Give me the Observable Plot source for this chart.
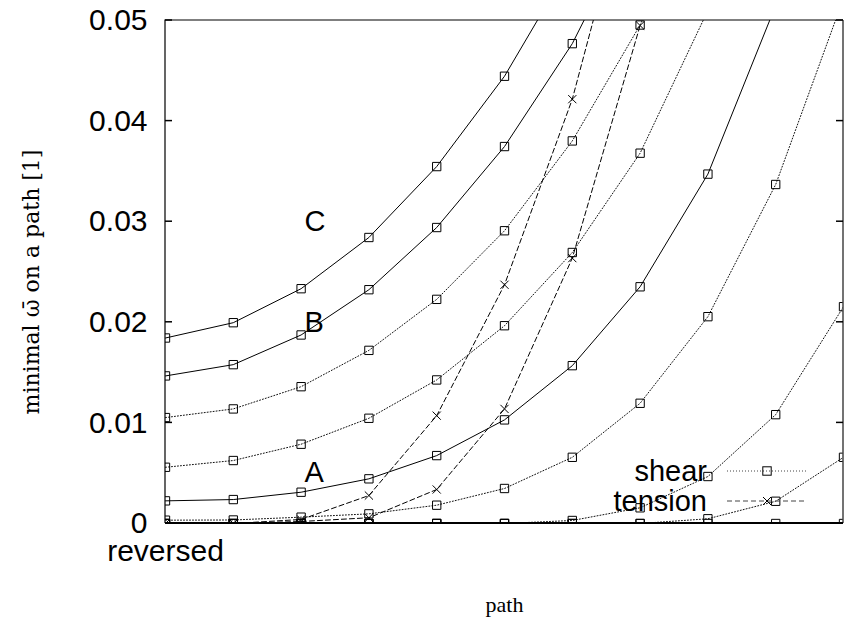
<!DOCTYPE html>
<html>
<head>
<meta charset="utf-8">
<script src="https://cdn.jsdelivr.net/npm/d3@7"></script>
<script src="https://cdn.jsdelivr.net/npm/@observablehq/plot@0.6"></script>
<style>
  html, body { margin: 0; padding: 0; background: #fff; }
  #chart { width: 844px; height: 621px; }
</style>
</head>
<body>
<div id="chart"></div>
<script>
// Path steps along the x axis (step 0 is the reversed path)
const steps = [0, 1, 2, 3, 4, 5, 6, 7, 8, 9, 10];

// Reference curves (solid), labelled A, B, C
const curveA = [0.00225, 0.00238, 0.00311, 0.00444, 0.00675, 0.0103, 0.01569, 0.02353, 0.03473, 0.0515];
const curveB = [0.01467, 0.01579, 0.01874, 0.02324, 0.02942, 0.03747, 0.0477, 0.0611];
const curveC = [0.01844, 0.01996, 0.02334, 0.02843, 0.03548, 0.04446, 0.0559];

// Shear cases (dotted)
const shear1 = [0.01053, 0.01139, 0.0136, 0.01721, 0.02228, 0.0291, 0.03803, 0.04955, 0.064];
const shear2 = [0.00559, 0.00626, 0.00788, 0.01046, 0.01427, 0.01966, 0.02694, 0.03681, 0.051];
const shear3 = [0.00033, 0.00035, 0.00063, 0.00096, 0.00182, 0.00348, 0.00658, 0.01195, 0.02056, 0.0337, 0.0522];
const shear4 = [0, 0, 0, 0, 0, 0, 0.0003, 0.00156, 0.00467, 0.01082, 0.02155];
const shear5 = [0, 0, 0, 0, 0, 0, 0, 0, 0.00047, 0.00221, 0.00658];
const shear6 = [0, 0, 0, 0, 0, 0, 0, 0, 0, 0, 0];

// Tension cases (dashed)
const tension1 = [0, 0, 0.0004, 0.00278, 0.01072, 0.02373, 0.04218, 0.0675];
const tension2 = [0, 0, 0.0002, 0.00057, 0.00338, 0.01139, 0.02638, 0.0495];

// Axis ticks
const yTickValues = [0, 0.01, 0.02, 0.03, 0.04, 0.05];
const yTickLabels = ["0", "0.01", "0.02", "0.03", "0.04", "0.05"];
const xTickValues = [0];
const xTickLabels = ["reversed"];

// Curve name annotations
const curveNames = ["A", "B", "C"];
const curveNameX = [2.05, 2.05, 2.05];
const curveNameY = [0.005, 0.02, 0.03];

// Legend entries
const legendNames = ["shear", "tension"];

const series = [
  {name: "A", kind: "solid", values: curveA},
  {name: "B", kind: "solid", values: curveB},
  {name: "C", kind: "solid", values: curveC},
  {name: "s1", kind: "shear", values: shear1},
  {name: "s2", kind: "shear", values: shear2},
  {name: "s3", kind: "shear", values: shear3},
  {name: "s4", kind: "shear", values: shear4},
  {name: "s5", kind: "shear", values: shear5},
  {name: "s6", kind: "shear", values: shear6},
  {name: "t1", kind: "tension", values: tension1},
  {name: "t2", kind: "tension", values: tension2}
];

const rows = series.flatMap(s => s.values.map((v, i) => ({series: s.name, kind: s.kind, step: steps[i], value: v})));
const solidRows = rows.filter(d => d.kind === "solid");
const shearRows = rows.filter(d => d.kind === "shear");
const tensionRows = rows.filter(d => d.kind === "tension");
const names = curveNames.map((n, i) => ({name: n, x: curveNameX[i], y: curveNameY[i]}));

const sans = "'Liberation Sans', Arial, Helvetica, sans-serif";
const serif = "'Liberation Serif', 'Times New Roman', serif";
const labelSerif = "'DejaVu Serif', serif";
const textSize = 29;
const tickFontSize = 30;

const plot = Plot.plot({
  width: 844,
  height: 621,
  marginTop: 20,
  marginBottom: 98,
  marginLeft: 165,
  marginRight: 1,
  style: {fontFamily: sans, fontSize: textSize + "px", color: "#000", background: "#fff"},
  x: {domain: [0, 10]},
  y: {domain: [0, 0.05]},
  marks: [
    Plot.line(shearRows, {x: "step", y: "value", z: "series", stroke: "#111", strokeWidth: 1, strokeDasharray: "1,2", clip: true}),
    Plot.line(tensionRows, {x: "step", y: "value", z: "series", stroke: "#000", strokeWidth: 1, strokeDasharray: "5,3", clip: true}),
    Plot.line(solidRows, {x: "step", y: "value", z: "series", stroke: "#000", strokeWidth: 1, clip: true}),
    Plot.dot(solidRows.concat(shearRows), {x: "step", y: "value", symbol: "square", r: 4.7, stroke: "#000", strokeWidth: 1, fill: "none", clip: true}),
    Plot.dot(tensionRows, {x: "step", y: "value", symbol: "times", r: 3.8, stroke: "#000", strokeWidth: 1, clip: true}),
    Plot.axisY(yTickValues, {tickSize: 0, tickPadding: 18, tickFormat: d => yTickLabels[yTickValues.indexOf(d)], fontSize: tickFontSize, label: null}),
    Plot.axisX(xTickValues, {tickSize: 0, tickPadding: 16, tickFormat: d => xTickLabels[xTickValues.indexOf(d)], fontSize: tickFontSize, label: null}),
    Plot.text(names, {x: "x", y: "y", text: "name", textAnchor: "start", lineAnchor: "middle", fontSize: textSize, fill: "#000"}),
    Plot.text(["minimal \u03C9\u0304 on a path [1]"], {text: d => d, frameAnchor: "left", rotate: -90, dx: -134, dy: 10, textAnchor: "middle", lineAnchor: "middle", fontFamily: labelSerif, fontSize: 22, fontWeight: 300, fill: "#000"}),
    Plot.text(["path"], {text: d => d, frameAnchor: "bottom", dy: 81, textAnchor: "middle", lineAnchor: "middle", fontFamily: serif, fontSize: 22, fill: "#000"})
  ]
});

const svg = d3.select(plot);
const xScale = plot.scale("x");
const yScale = plot.scale("y");
const sx = d3.scaleLinear().domain(xScale.domain).range(xScale.range);
const sy = d3.scaleLinear().domain(yScale.domain).range(yScale.range);
const [frameLeft, frameRight] = sx.range();
const [frameBottom, frameTop] = sy.range();

// Border and inward ticks on both sides
const border = svg.append("g").attr("fill", "none").attr("stroke", "#000");
border.append("path").attr("d", `M${frameLeft},${frameBottom}V${frameTop}H${frameRight}`).attr("stroke-width", 1.2);
border.append("path").attr("d", `M${frameRight},${frameTop}V${frameBottom}`).attr("stroke", "#444").attr("stroke-width", 1.5);
border.append("path").attr("d", `M${frameLeft},${frameBottom}H${frameRight}`).attr("stroke-width", 2);
yTickValues.filter(v => v > 0).forEach(v => {
  const y = sy(v);
  border.append("line").attr("x1", frameLeft).attr("x2", frameLeft + 7).attr("y1", y).attr("y2", y).attr("stroke-width", 1.5);
  border.append("line").attr("x1", frameRight - 7).attr("x2", frameRight).attr("y1", y).attr("y2", y).attr("stroke-width", 1.5);
});

// Key in the lower right of the frame
const key = svg.append("g").attr("class", "key");
const keyStyles = [
  {dash: "1,2", symbol: "square"},
  {dash: "5,3", symbol: "times"}
];
legendNames.forEach((name, i) => {
  const y = 471 + i * 30;
  const g = key.append("g");
  g.append("text")
    .attr("x", 707).attr("y", y).attr("dy", "0.36em")
    .attr("text-anchor", "end")
    .attr("font-family", sans).attr("font-size", textSize)
    .text(name);
  g.append("line")
    .attr("x1", 727).attr("x2", 807).attr("y1", y).attr("y2", y)
    .attr("stroke", "#444").attr("stroke-dasharray", keyStyles[i].dash);
  if (keyStyles[i].symbol === "square") {
    g.append("rect").attr("x", 767 - 4.2).attr("y", y - 4.2).attr("width", 8.4).attr("height", 8.4)
      .attr("fill", "none").attr("stroke", "#000");
  } else {
    g.append("path").attr("d", `M${763},${y - 4}L${771},${y + 4}M${763},${y + 4}L${771},${y - 4}`)
      .attr("stroke", "#000").attr("fill", "none");
  }
});

document.getElementById("chart").appendChild(plot);
</script>
</body>
</html>
